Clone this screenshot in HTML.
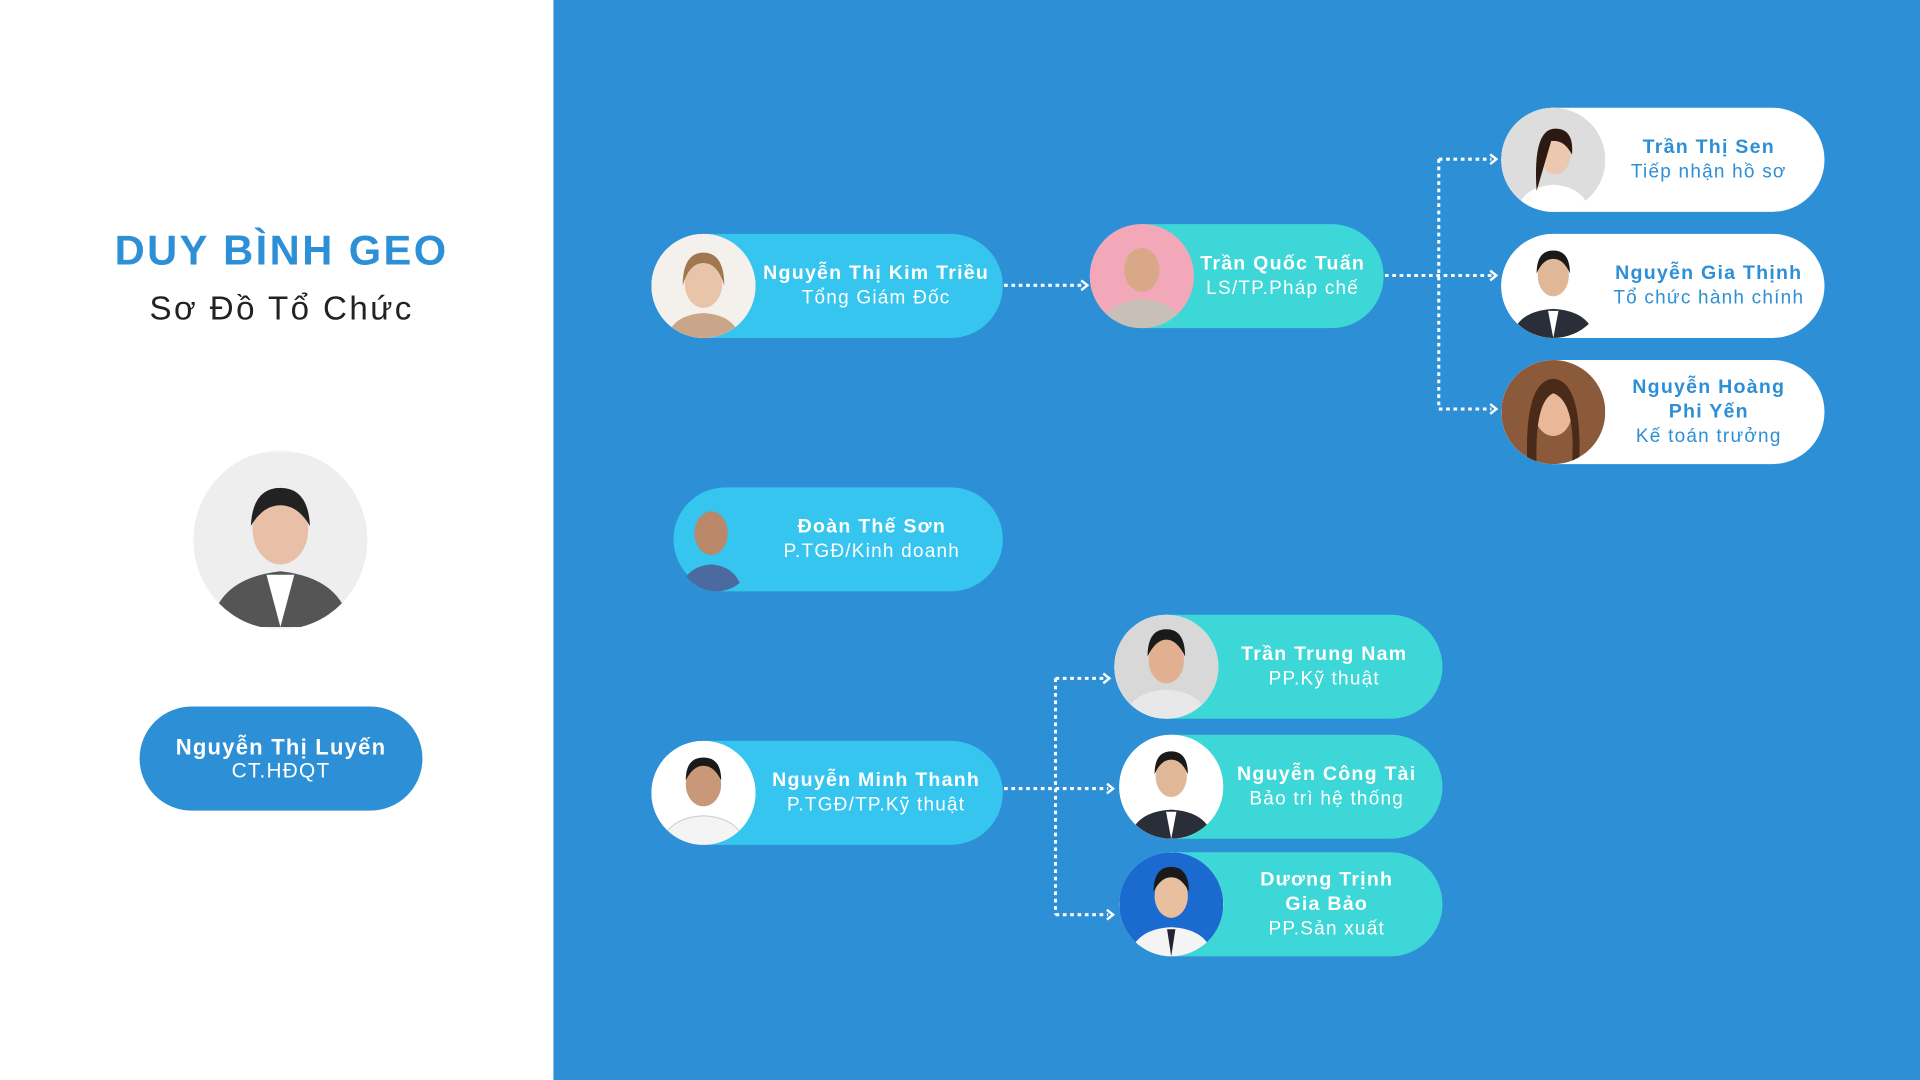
<!DOCTYPE html>
<html><head><meta charset="utf-8"><style>
html,body{margin:0;padding:0;width:1920px;height:1080px;overflow:hidden;background:#fff}
#w{position:absolute;left:0;top:0;width:1568px;height:882px;transform:scale(1.22449);transform-origin:0 0;font-family:"Liberation Sans",sans-serif}
.blue{position:absolute;left:452px;top:0;width:1116px;height:882px;background:#2d8fd5}
.pill{position:absolute;height:85px;border-radius:43px;color:#fff;text-align:center;letter-spacing:1px}
.pill .t{position:absolute;top:0;bottom:0;display:flex;flex-direction:column;justify-content:center;font-size:15.5px;line-height:20px}
.pill b{font-size:16px}
.cy{background:#35c5ef}.tq{background:#3ed7d7}.wh{background:#fff;color:#2d8fd5}
.ph{position:absolute;left:0;top:0;width:85px;height:85px;border-radius:50%;background:#fff;overflow:hidden}
.ph svg{width:100%;height:100%}
</style></head><body><div id="w">
<div style="position:absolute;left:0;width:460px;top:186px;text-align:center;color:#2d8fd5;font-weight:bold;font-size:34px;letter-spacing:2px">DUY BÌNH GEO</div>
<div style="position:absolute;left:0;width:460px;top:237px;text-align:center;color:#222;font-size:27px;letter-spacing:2px">Sơ Đồ Tổ Chức</div>
<div style="position:absolute;left:158px;top:368px;width:142px;height:146px;border-radius:50%;background:#f2f2f2;overflow:hidden"><svg viewBox="0 0 100 100" width="142" height="146"><rect width="100" height="100" fill="#eeeeee"/><path d="M10 100 Q14 72 50 68 Q86 72 90 100Z" fill="#555"/><path d="M42 70 L50 100 L58 70Z" fill="#fff"/><ellipse cx="50" cy="44" rx="16" ry="20" fill="#e8c0a8"/><path d="M33 42 Q34 20 50 20 Q66 20 67 42 Q60 30 50 30 Q40 30 33 42Z" fill="#222"/></svg></div>
<div class="pill" style="left:114px;top:577px;width:231px;background:#2d8fd5"><div class="t" style="left:0;right:0;font-size:17px"><b style="font-size:18px">Nguyễn Thị Luyến</b>CT.HĐQT</div></div>
<div class="blue"></div>
<svg style="position:absolute;left:0;top:0" width="1568" height="882"><g stroke="#fff" stroke-width="2.5" stroke-dasharray="3 3" fill="none">
<path d="M820 233H884M1131 225H1218M1175 130V334M1175 130H1218M1175 334H1218M820 644H905M862 554V747M862 554H902M862 747H905"/></g>
<g fill="none" stroke="#fff" stroke-width="2"><path d="M883 229l5 4-5 4M1217 126l5 4-5 4M1217 221l5 4-5 4M1217 330l5 4-5 4M901 550l5 4-5 4M904 640l5 4-5 4M904 743l5 4-5 4"/></g></svg>

<div class="pill cy" style="left:532px;top:191px;width:287px"><div class="ph"><svg viewBox="0 0 100 100"><rect width="100" height="100" fill="#f4f0ec"/><path d="M15 100Q20 78 50 76Q80 78 85 100Z" fill="#c9a58a"/><ellipse cx="50" cy="48" rx="18" ry="23" fill="#e8c4a8"/><path d="M30 50Q30 18 50 18Q70 18 70 50Q64 28 50 28Q36 28 30 50Z" fill="#a07850"/></svg></div><div class="t" style="left:85px;right:5px"><b>Nguyễn Thị Kim Triều</b>Tổng Giám Đốc</div></div>
<div class="pill tq" style="left:890px;top:183px;width:240px"><div class="ph" style="background:#f0a0b0"><svg viewBox="0 0 100 100"><rect width="100" height="100" fill="#f2a8b8"/><path d="M10 100Q15 75 50 72Q85 75 90 100Z" fill="#c8c0b8"/><ellipse cx="50" cy="44" rx="17" ry="21" fill="#d8a888"/></svg></div><div class="t" style="left:85px;right:10px"><b>Trần Quốc Tuấn</b>LS/TP.Pháp chế</div></div>
<div class="pill wh" style="left:1226px;top:88px;width:264px"><div class="ph"><svg viewBox="0 0 100 100"><rect width="100" height="100" fill="#ddd"/><path d="M15 100Q20 76 50 74Q80 76 85 100Z" fill="#fff"/><ellipse cx="52" cy="44" rx="15" ry="20" fill="#ecc8b0"/><path d="M34 80Q30 20 52 20Q70 20 68 45Q60 30 48 32Z" fill="#2a1a12"/></svg></div><div class="t" style="left:85px;right:10px"><b>Trần Thị Sen</b>Tiếp nhận hồ sơ</div></div>
<div class="pill wh" style="left:1226px;top:191px;width:264px"><div class="ph"><svg viewBox="0 0 100 100"><rect width="100" height="100" fill="#fff"/><path d="M10 100Q15 74 50 72Q85 74 90 100Z" fill="#2a2e38"/><path d="M45 74L50 100L55 74Z" fill="#fff"/><ellipse cx="50" cy="40" rx="15" ry="20" fill="#e0b898"/><path d="M34 38Q34 16 50 16Q66 16 66 38Q60 24 50 24Q40 24 34 38Z" fill="#1a1a1a"/></svg></div><div class="t" style="left:85px;right:10px"><b>Nguyễn Gia Thịnh</b>Tổ chức hành chính</div></div>
<div class="pill wh" style="left:1226px;top:294px;width:264px"><div class="ph"><svg viewBox="0 0 100 100"><rect width="100" height="100" fill="#8a5a3a"/><ellipse cx="50" cy="50" rx="18" ry="23" fill="#e8b898"/><path d="M25 100Q22 20 50 18Q78 20 75 100L68 100Q72 40 50 32Q32 40 34 100Z" fill="#4a2a18"/></svg></div><div class="t" style="left:85px;right:10px"><b>Nguyễn Hoàng<br>Phi Yến</b>Kế toán trưởng</div></div>
<div class="pill cy" style="left:550px;top:398px;width:269px"><div class="ph" style="width:70px;background:transparent"><svg viewBox="0 0 80 100"><path d="M5 100Q10 76 35 74Q60 76 65 100Z" fill="#4a6aa0"/><ellipse cx="35" cy="44" rx="16" ry="21" fill="#b88868"/></svg></div><div class="t" style="left:60px;right:5px"><b>Đoàn Thế Sơn</b>P.TGĐ/Kinh doanh</div></div>
<div class="pill cy" style="left:532px;top:605px;width:287px"><div class="ph"><svg viewBox="0 0 100 100"><rect width="100" height="100" fill="#fff"/><path d="M10 100Q15 74 50 72Q85 74 90 100Z" fill="#f4f4f4" stroke="#ccc"/><ellipse cx="50" cy="42" rx="17" ry="21" fill="#c89878"/><path d="M33 38Q33 16 50 16Q67 16 67 38Q60 24 50 24Q40 24 33 38Z" fill="#1a1a1a"/></svg></div><div class="t" style="left:90px;right:10px"><b>Nguyễn Minh Thanh</b>P.TGĐ/TP.Kỹ thuật</div></div>
<div class="pill tq" style="left:910px;top:502px;width:268px"><div class="ph"><svg viewBox="0 0 100 100"><rect width="100" height="100" fill="#d8d8d8"/><path d="M10 100Q15 74 50 72Q85 74 90 100Z" fill="#e8e8e8"/><ellipse cx="50" cy="44" rx="17" ry="22" fill="#e0b090"/><path d="M32 40Q32 14 50 14Q68 14 68 40Q60 24 50 24Q40 24 32 40Z" fill="#1a1a1a"/></svg></div><div class="t" style="left:85px;right:10px"><b>Trần Trung Nam</b>PP.Kỹ thuật</div></div>
<div class="pill tq" style="left:914px;top:600px;width:264px"><div class="ph"><svg viewBox="0 0 100 100"><rect width="100" height="100" fill="#fff"/><path d="M10 100Q15 74 50 72Q85 74 90 100Z" fill="#2a2e38"/><path d="M45 74L50 100L55 74Z" fill="#fff"/><ellipse cx="50" cy="40" rx="15" ry="20" fill="#e0b898"/><path d="M34 38Q34 16 50 16Q66 16 66 38Q60 24 50 24Q40 24 34 38Z" fill="#1a1a1a"/></svg></div><div class="t" style="left:85px;right:10px"><b>Nguyễn Công Tài</b>Bảo trì hệ thống</div></div>
<div class="pill tq" style="left:914px;top:696px;width:264px"><div class="ph"><svg viewBox="0 0 100 100"><rect width="100" height="100" fill="#1a6ad0"/><path d="M10 100Q15 74 50 72Q85 74 90 100Z" fill="#f4f4f4"/><path d="M46 74L50 100L54 74Z" fill="#223"/><ellipse cx="50" cy="42" rx="16" ry="21" fill="#e8c0a0"/><path d="M33 38Q33 14 50 14Q67 14 67 38Q60 24 50 24Q40 24 33 38Z" fill="#1a1a1a"/></svg></div><div class="t" style="left:85px;right:10px"><b>Dương Trịnh<br>Gia Bảo</b>PP.Sản xuất</div></div>
</div></body></html>
